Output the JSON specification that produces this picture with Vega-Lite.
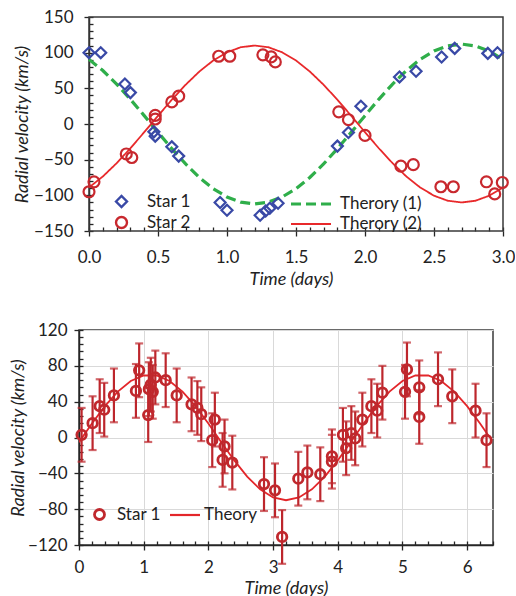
{
  "$schema": "https://vega.github.io/schema/vega-lite/v6.json",
  "padding": {"top": 8, "left": 8, "right": 0, "bottom": 0},
  "background": "white",
  "spacing": 32,
  "datasets": {
    "top_points": [
      {"t": 0.0, "v": 100, "star": "Star 1"}, {"t": 0.085, "v": 100, "star": "Star 1"},
      {"t": 0.26, "v": 56, "star": "Star 1"}, {"t": 0.30, "v": 44, "star": "Star 1"},
      {"t": 0.47, "v": -11, "star": "Star 1"}, {"t": 0.48, "v": -17, "star": "Star 1"},
      {"t": 0.60, "v": -32, "star": "Star 1"}, {"t": 0.65, "v": -45, "star": "Star 1"},
      {"t": 0.95, "v": -110, "star": "Star 1"}, {"t": 1.0, "v": -121, "star": "Star 1"},
      {"t": 1.24, "v": -128, "star": "Star 1"}, {"t": 1.28, "v": -122, "star": "Star 1"},
      {"t": 1.31, "v": -118, "star": "Star 1"}, {"t": 1.37, "v": -111, "star": "Star 1"},
      {"t": 1.80, "v": -31, "star": "Star 1"}, {"t": 1.88, "v": -12, "star": "Star 1"},
      {"t": 1.97, "v": 25, "star": "Star 1"}, {"t": 2.25, "v": 66, "star": "Star 1"},
      {"t": 2.37, "v": 74, "star": "Star 1"}, {"t": 2.555, "v": 94, "star": "Star 1"},
      {"t": 2.65, "v": 106, "star": "Star 1"}, {"t": 2.89, "v": 99, "star": "Star 1"},
      {"t": 2.96, "v": 100, "star": "Star 1"},
      {"t": 0.0, "v": -95, "star": "Star 2"}, {"t": 0.036, "v": -81, "star": "Star 2"},
      {"t": 0.27, "v": -42, "star": "Star 2"}, {"t": 0.31, "v": -47, "star": "Star 2"},
      {"t": 0.48, "v": 12, "star": "Star 2"}, {"t": 0.48, "v": 7, "star": "Star 2"},
      {"t": 0.60, "v": 31, "star": "Star 2"}, {"t": 0.65, "v": 39, "star": "Star 2"},
      {"t": 0.94, "v": 95, "star": "Star 2"}, {"t": 1.02, "v": 95, "star": "Star 2"},
      {"t": 1.26, "v": 97, "star": "Star 2"}, {"t": 1.32, "v": 94, "star": "Star 2"},
      {"t": 1.35, "v": 87, "star": "Star 2"}, {"t": 1.81, "v": 17, "star": "Star 2"},
      {"t": 1.88, "v": 6, "star": "Star 2"}, {"t": 2.0, "v": -16, "star": "Star 2"},
      {"t": 2.26, "v": -59, "star": "Star 2"}, {"t": 2.35, "v": -57, "star": "Star 2"},
      {"t": 2.55, "v": -88, "star": "Star 2"}, {"t": 2.64, "v": -88, "star": "Star 2"},
      {"t": 2.88, "v": -81, "star": "Star 2"}, {"t": 2.94, "v": -98, "star": "Star 2"},
      {"t": 2.995, "v": -82, "star": "Star 2"}
    ],
    "top_theory": [
      {"t": 0.0, "v": 90.6, "theory": "Therory (1)"}, {"t": 0.1, "v": 75, "theory": "Therory (1)"},
      {"t": 0.2, "v": 56, "theory": "Therory (1)"}, {"t": 0.3, "v": 34.6, "theory": "Therory (1)"},
      {"t": 0.4, "v": 11.7, "theory": "Therory (1)"}, {"t": 0.5, "v": -11.7, "theory": "Therory (1)"},
      {"t": 0.6, "v": -34.6, "theory": "Therory (1)"}, {"t": 0.7, "v": -56, "theory": "Therory (1)"},
      {"t": 0.8, "v": -75, "theory": "Therory (1)"}, {"t": 0.9, "v": -90.6, "theory": "Therory (1)"},
      {"t": 1.0, "v": -102.3, "theory": "Therory (1)"}, {"t": 1.1, "v": -109.5, "theory": "Therory (1)"},
      {"t": 1.2, "v": -112, "theory": "Therory (1)"}, {"t": 1.3, "v": -109.5, "theory": "Therory (1)"},
      {"t": 1.4, "v": -102.3, "theory": "Therory (1)"}, {"t": 1.5, "v": -90.6, "theory": "Therory (1)"},
      {"t": 1.6, "v": -75, "theory": "Therory (1)"}, {"t": 1.7, "v": -56, "theory": "Therory (1)"},
      {"t": 1.8, "v": -34.6, "theory": "Therory (1)"}, {"t": 1.9, "v": -11.7, "theory": "Therory (1)"},
      {"t": 2.0, "v": 11.7, "theory": "Therory (1)"}, {"t": 2.1, "v": 34.6, "theory": "Therory (1)"},
      {"t": 2.2, "v": 56, "theory": "Therory (1)"}, {"t": 2.3, "v": 75, "theory": "Therory (1)"},
      {"t": 2.4, "v": 90.6, "theory": "Therory (1)"}, {"t": 2.5, "v": 102.3, "theory": "Therory (1)"},
      {"t": 2.6, "v": 109.5, "theory": "Therory (1)"}, {"t": 2.7, "v": 112, "theory": "Therory (1)"},
      {"t": 2.8, "v": 109.5, "theory": "Therory (1)"}, {"t": 2.9, "v": 102.3, "theory": "Therory (1)"},
      {"t": 3.0, "v": 90.6, "theory": "Therory (1)"},
      {"t": 0.0, "v": -89, "theory": "Therory (2)"}, {"t": 0.1, "v": -73.6, "theory": "Therory (2)"},
      {"t": 0.2, "v": -55, "theory": "Therory (2)"}, {"t": 0.3, "v": -34, "theory": "Therory (2)"},
      {"t": 0.4, "v": -11.5, "theory": "Therory (2)"}, {"t": 0.5, "v": 11.5, "theory": "Therory (2)"},
      {"t": 0.6, "v": 34, "theory": "Therory (2)"}, {"t": 0.7, "v": 55, "theory": "Therory (2)"},
      {"t": 0.8, "v": 73.6, "theory": "Therory (2)"}, {"t": 0.9, "v": 89, "theory": "Therory (2)"},
      {"t": 1.0, "v": 100.5, "theory": "Therory (2)"}, {"t": 1.1, "v": 107.6, "theory": "Therory (2)"},
      {"t": 1.2, "v": 110, "theory": "Therory (2)"}, {"t": 1.3, "v": 107.6, "theory": "Therory (2)"},
      {"t": 1.4, "v": 100.5, "theory": "Therory (2)"}, {"t": 1.5, "v": 89, "theory": "Therory (2)"},
      {"t": 1.6, "v": 73.6, "theory": "Therory (2)"}, {"t": 1.7, "v": 55, "theory": "Therory (2)"},
      {"t": 1.8, "v": 34, "theory": "Therory (2)"}, {"t": 1.9, "v": 11.5, "theory": "Therory (2)"},
      {"t": 2.0, "v": -11.5, "theory": "Therory (2)"}, {"t": 2.1, "v": -34, "theory": "Therory (2)"},
      {"t": 2.2, "v": -55, "theory": "Therory (2)"}, {"t": 2.3, "v": -73.6, "theory": "Therory (2)"},
      {"t": 2.4, "v": -89, "theory": "Therory (2)"}, {"t": 2.5, "v": -100.5, "theory": "Therory (2)"},
      {"t": 2.6, "v": -107.6, "theory": "Therory (2)"}, {"t": 2.7, "v": -110, "theory": "Therory (2)"},
      {"t": 2.8, "v": -107.6, "theory": "Therory (2)"}, {"t": 2.9, "v": -100.5, "theory": "Therory (2)"},
      {"t": 3.0, "v": -89, "theory": "Therory (2)"}
    ],
    "bot_points": [
      {"t": 0.04, "v": 3, "err": 30, "star": "Star 1"}, {"t": 0.21, "v": 16, "err": 30, "star": "Star 1"},
      {"t": 0.32, "v": 35, "err": 30, "star": "Star 1"}, {"t": 0.39, "v": 31, "err": 30, "star": "Star 1"},
      {"t": 0.54, "v": 47, "err": 30, "star": "Star 1"}, {"t": 0.88, "v": 52, "err": 30, "star": "Star 1"},
      {"t": 0.93, "v": 75, "err": 30, "star": "Star 1"}, {"t": 1.07, "v": 25, "err": 30, "star": "Star 1"},
      {"t": 1.08, "v": 54, "err": 30, "star": "Star 1"}, {"t": 1.11, "v": 59, "err": 30, "star": "Star 1"},
      {"t": 1.14, "v": 51, "err": 30, "star": "Star 1"}, {"t": 1.18, "v": 67, "err": 30, "star": "Star 1"},
      {"t": 1.34, "v": 64, "err": 30, "star": "Star 1"}, {"t": 1.51, "v": 47, "err": 30, "star": "Star 1"},
      {"t": 1.74, "v": 37, "err": 30, "star": "Star 1"}, {"t": 1.83, "v": 33, "err": 30, "star": "Star 1"},
      {"t": 1.89, "v": 26, "err": 30, "star": "Star 1"}, {"t": 2.10, "v": 20, "err": 30, "star": "Star 1"},
      {"t": 2.06, "v": -3, "err": 30, "star": "Star 1"}, {"t": 2.25, "v": -10, "err": 30, "star": "Star 1"},
      {"t": 2.22, "v": -25, "err": 30, "star": "Star 1"}, {"t": 2.37, "v": -28, "err": 30, "star": "Star 1"},
      {"t": 2.86, "v": -52, "err": 30, "star": "Star 1"}, {"t": 3.03, "v": -59, "err": 30, "star": "Star 1"},
      {"t": 3.14, "v": -111, "err": 30, "star": "Star 1"}, {"t": 3.39, "v": -46, "err": 30, "star": "Star 1"},
      {"t": 3.53, "v": -39, "err": 30, "star": "Star 1"}, {"t": 3.73, "v": -41, "err": 30, "star": "Star 1"},
      {"t": 3.91, "v": -21, "err": 30, "star": "Star 1"}, {"t": 3.91, "v": -27, "err": 30, "star": "Star 1"},
      {"t": 4.08, "v": 3, "err": 30, "star": "Star 1"}, {"t": 4.13, "v": -12, "err": 30, "star": "Star 1"},
      {"t": 4.21, "v": 5, "err": 30, "star": "Star 1"}, {"t": 4.27, "v": -1, "err": 30, "star": "Star 1"},
      {"t": 4.38, "v": 20, "err": 30, "star": "Star 1"}, {"t": 4.52, "v": 35, "err": 30, "star": "Star 1"},
      {"t": 4.61, "v": 30, "err": 30, "star": "Star 1"}, {"t": 4.69, "v": 50, "err": 30, "star": "Star 1"},
      {"t": 5.04, "v": 51, "err": 30, "star": "Star 1"}, {"t": 5.07, "v": 76, "err": 30, "star": "Star 1"},
      {"t": 5.26, "v": 56, "err": 30, "star": "Star 1"}, {"t": 5.26, "v": 23, "err": 30, "star": "Star 1"},
      {"t": 5.55, "v": 65, "err": 30, "star": "Star 1"}, {"t": 5.77, "v": 46, "err": 30, "star": "Star 1"},
      {"t": 6.13, "v": 30, "err": 30, "star": "Star 1"}, {"t": 6.30, "v": -3, "err": 30, "star": "Star 1"}
    ],
    "bot_theory": [
      {"t": 0.0, "v": -5.2, "theory": "Theory"}, {"t": 0.2, "v": 15.6, "theory": "Theory"},
      {"t": 0.4, "v": 35, "theory": "Theory"}, {"t": 0.6, "v": 51.3, "theory": "Theory"},
      {"t": 0.8, "v": 63.1, "theory": "Theory"}, {"t": 1.0, "v": 69.2, "theory": "Theory"},
      {"t": 1.2, "v": 69.2, "theory": "Theory"}, {"t": 1.4, "v": 63.1, "theory": "Theory"},
      {"t": 1.6, "v": 51.3, "theory": "Theory"}, {"t": 1.8, "v": 35, "theory": "Theory"},
      {"t": 2.0, "v": 15.6, "theory": "Theory"}, {"t": 2.2, "v": -5.2, "theory": "Theory"},
      {"t": 2.4, "v": -25.6, "theory": "Theory"}, {"t": 2.6, "v": -43.7, "theory": "Theory"},
      {"t": 2.8, "v": -57.8, "theory": "Theory"}, {"t": 3.0, "v": -66.9, "theory": "Theory"},
      {"t": 3.2, "v": -70, "theory": "Theory"}, {"t": 3.4, "v": -66.9, "theory": "Theory"},
      {"t": 3.6, "v": -57.8, "theory": "Theory"}, {"t": 3.8, "v": -43.7, "theory": "Theory"},
      {"t": 4.0, "v": -25.6, "theory": "Theory"}, {"t": 4.2, "v": -5.2, "theory": "Theory"},
      {"t": 4.4, "v": 15.6, "theory": "Theory"}, {"t": 4.6, "v": 35, "theory": "Theory"},
      {"t": 4.8, "v": 51.3, "theory": "Theory"}, {"t": 5.0, "v": 63.1, "theory": "Theory"},
      {"t": 5.2, "v": 69.2, "theory": "Theory"}, {"t": 5.4, "v": 69.2, "theory": "Theory"},
      {"t": 5.6, "v": 63.1, "theory": "Theory"}, {"t": 5.8, "v": 51.3, "theory": "Theory"},
      {"t": 6.0, "v": 35, "theory": "Theory"}, {"t": 6.2, "v": 15.6, "theory": "Theory"},
      {"t": 6.35, "v": 0, "theory": "Theory"}
    ]
  },
  "vconcat": [
    {
      "width": 424,
      "height": 214,
      "view": {"stroke": null},
      "layer": [
        {
          "data": {"values": [{}]},
          "mark": {"type": "rect", "fill": null, "stroke": "#3a3a3a", "strokeWidth": 1.5},
          "encoding": {
            "x": {"datum": 0, "type": "quantitative", "scale": {"domain": [-0.0725, 3], "nice": false, "zero": false}, "axis": null},
            "x2": {"datum": 3},
            "y": {"datum": -150, "type": "quantitative", "scale": {"domain": [-150, 150], "nice": false, "zero": false}, "axis": null},
            "y2": {"datum": 150}
          }
        },
        {
          "data": {"name": "top_theory"},
          "mark": {"type": "line", "clip": true},
          "encoding": {
            "x": {"field": "t", "type": "quantitative", "scale": {"domain": [-0.0725, 3], "nice": false, "zero": false},
              "axis": {"orient": "bottom", "domain": false, "values": [0, 0.5, 1, 1.5, 2, 2.5, 3], "format": ".1f", "labelOverlap": false, "title": "Time (days)", "tickSize": 5, "labelPadding": 13, "titlePadding": 5}},
            "y": {"field": "v", "type": "quantitative", "scale": {"domain": [-150, 150], "nice": false, "zero": false},
              "axis": {"orient": "left", "offset": -10, "values": [-150, -100, -50, 0, 50, 100, 150], "labelOverlap": false, "title": "Radial velocity (km/s)", "tickSize": 5, "labelPadding": 11, "titlePadding": 2}},
            "stroke": {"field": "theory", "type": "nominal",
              "scale": {"domain": ["Therory (1)", "Therory (2)"], "range": ["#2fae4a", "#e8292b"]},
              "legend": {"orient": "none", "legendX": 220, "legendY": 175, "title": null, "symbolType": "M-2,0H2", "symbolSize": 400, "labelOffset": 17, "rowPadding": 1, "padding": 0, "symbolStrokeWidth": 2.5}},
            "strokeDash": {"field": "theory", "type": "nominal",
              "scale": {"domain": ["Therory (1)", "Therory (2)"], "range": [[10, 5], [1, 0]]}},
            "strokeWidth": {"field": "theory", "type": "nominal",
              "scale": {"domain": ["Therory (1)", "Therory (2)"], "range": [3.2, 1.8]}, "legend": null}
          }
        },
        {
          "data": {"name": "top_points"},
          "mark": {"type": "point", "filled": false, "size": 120, "strokeWidth": 2.2, "opacity": 1},
          "encoding": {
            "x": {"field": "t", "type": "quantitative", "scale": {"domain": [-0.0725, 3], "nice": false, "zero": false},
              "axis": {"orient": "top", "offset": -214, "values": [0,0.1,0.2,0.3,0.4,0.5,0.6,0.7,0.8,0.9,1,1.1,1.2,1.3,1.4,1.5,1.6,1.7,1.8,1.9,2,2.1,2.2,2.3,2.4,2.5,2.6,2.7,2.8,2.9,3], "labels": false, "domain": false, "grid": false, "title": null, "ticks": true, "tickSize": 4}},
            "y": {"field": "v", "type": "quantitative", "scale": {"domain": [-150, 150], "nice": false, "zero": false},
              "axis": {"orient": "right", "offset": -414, "values": [-150,-140,-130,-120,-110,-100,-90,-80,-70,-60,-50,-40,-30,-20,-10,0,10,20,30,40,50,60,70,80,90,100,110,120,130,140,150], "labels": false, "domain": false, "grid": false, "title": null, "ticks": true, "tickSize": 4}},
            "color": {"field": "star", "type": "nominal",
              "scale": {"domain": ["Star 1", "Star 2"], "range": ["#3949a6", "#c8282e"]},
              "legend": {"orient": "none", "legendX": 34, "legendY": 176, "title": null, "rowPadding": 0, "labelOffset": 17, "padding": 0, "symbolStrokeWidth": 2.4, "symbolSize": 120}},
            "shape": {"field": "star", "type": "nominal",
              "scale": {"domain": ["Star 1", "Star 2"], "range": ["diamond", "circle"]}}
          }
        }
      ],
      "resolve": {"axis": {"x": "independent", "y": "independent"}}
    },
    {
      "width": 414,
      "height": 215,
      "layer": [
        {
          "data": {"name": "bot_theory"},
          "mark": {"type": "line", "clip": true, "strokeWidth": 1.8},
          "encoding": {
            "x": {"field": "t", "type": "quantitative", "scale": {"domain": [0, 6.4], "nice": false, "zero": false},
              "axis": {"orient": "bottom", "values": [0, 1, 2, 3, 4, 5, 6], "format": "d", "labelOverlap": false, "title": "Time (days)", "tickSize": 5, "labelPadding": 9, "titlePadding": 4}},
            "y": {"field": "v", "type": "quantitative", "scale": {"domain": [-120, 120], "nice": false, "zero": false},
              "axis": {"orient": "left", "values": [-120, -80, -40, 0, 40, 80, 120], "labelOverlap": false, "title": "Radial velocity (km/s)", "tickSize": 5, "labelPadding": 7, "titlePadding": 0}},
            "stroke": {"field": "theory", "type": "nominal",
              "scale": {"domain": ["Theory"], "range": ["#e3262a"]},
              "legend": {"orient": "none", "legendX": 97, "legendY": 176, "title": null, "symbolType": "M-2,0H2", "symbolSize": 225, "labelOffset": 10, "padding": 0, "symbolStrokeWidth": 2.2}}
          }
        },
        {
          "data": {"name": "bot_points"},
          "mark": {"type": "errorbar", "ticks": {"size": 8}, "thickness": 2.2, "color": "#bd262c"},
          "encoding": {
            "x": {"field": "t", "type": "quantitative", "scale": {"domain": [0, 6.4], "nice": false, "zero": false}, "axis": null},
            "y": {"field": "v", "type": "quantitative", "scale": {"domain": [-120, 120], "nice": false, "zero": false}, "axis": null},
            "yError": {"field": "err"}
          }
        },
        {
          "data": {"name": "bot_points"},
          "mark": {"type": "point", "filled": false, "shape": "circle", "size": 90, "strokeWidth": 2.8, "opacity": 1},
          "encoding": {
            "x": {"field": "t", "type": "quantitative", "scale": {"domain": [0, 6.4], "nice": false, "zero": false},
              "axis": {"orient": "top", "offset": -215, "values": [0,0.2,0.4,0.6,0.8,1,1.2,1.4,1.6,1.8,2,2.2,2.4,2.6,2.8,3,3.2,3.4,3.6,3.8,4,4.2,4.4,4.6,4.8,5,5.2,5.4,5.6,5.8,6,6.2,6.4], "labels": false, "domain": false, "grid": false, "title": null, "ticks": true, "tickSize": 4}},
            "y": {"field": "v", "type": "quantitative", "scale": {"domain": [-120, 120], "nice": false, "zero": false},
              "axis": {"orient": "right", "offset": -414, "values": [-120,-112,-104,-96,-88,-80,-72,-64,-56,-48,-40,-32,-24,-16,-8,0,8,16,24,32,40,48,56,64,72,80,88,96,104,112,120], "labels": false, "domain": false, "grid": false, "title": null, "ticks": true, "tickSize": 4}},
            "color": {"field": "star", "type": "nominal",
              "scale": {"domain": ["Star 1"], "range": ["#c0282d"]},
              "legend": {"orient": "none", "legendX": 12, "legendY": 176, "title": null, "labelOffset": 9, "padding": 0, "symbolStrokeWidth": 2.8, "symbolSize": 100, "symbolType": "circle"}}
          }
        }
      ],
      "resolve": {"axis": {"x": "independent", "y": "independent"}}
    }
  ],
  "resolve": {
    "scale": {"color": "independent", "stroke": "independent", "strokeDash": "independent", "strokeWidth": "independent", "shape": "independent"},
    "legend": {"color": "independent", "stroke": "independent", "strokeDash": "independent", "shape": "independent"}
  },
  "config": {
    "font": "Lato",
    "view": {"stroke": "#3a3a3a", "strokeWidth": 1.5},
    "axis": {
      "labelFont": "Lato", "labelFontSize": 17, "labelColor": "#222222",
      "labelFlush": false, "labelOverlap": false, "labelBound": false,
      "titleFont": "Lato", "titleFontSize": 18, "titleFontStyle": "italic", "titleFontWeight": "normal", "titleColor": "#222222",
      "gridColor": "#d9d9d9", "gridWidth": 1,
      "domainColor": "#262626", "domainWidth": 1.5,
      "tickColor": "#262626", "tickWidth": 1.3
    },
    "legend": {"labelFont": "Lato", "labelFontSize": 17, "labelColor": "#222222", "labelBaseline": "middle"}
  }
}
